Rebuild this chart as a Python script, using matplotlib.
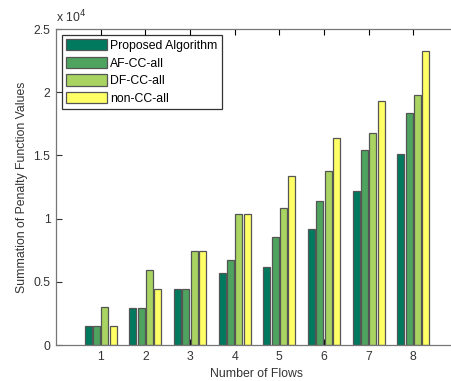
import matplotlib
matplotlib.use("Agg")
import matplotlib.pyplot as plt
import numpy as np

plt.rcParams['font.family'] = ['Liberation Sans', 'DejaVu Sans']

flows = [1, 2, 3, 4, 5, 6, 7, 8]
series_names = ["Proposed Algorithm", "AF-CC-all", "DF-CC-all", "non-CC-all"]
proposed = [1500, 2950, 4420, 5660, 6160, 9160, 12160, 15090]
af_cc = [1500, 2950, 4420, 6690, 8510, 11430, 15460, 18380]
df_cc = [3000, 5950, 7420, 10400, 10850, 13800, 16770, 19770]
non_cc = [1500, 4420, 7420, 10400, 13370, 16350, 19330, 23280]
colors = ["#007a5e", "#4ea35e", "#a9d462", "#ffff66"]
ytick_vals = [0, 5000, 10000, 15000, 20000, 25000]
ytick_labels = ["0", "0.5", "1", "1.5", "2", "2.5"]

fs = 8.8
fig = plt.figure(figsize=(4.52, 3.81), dpi=100)
ax = fig.add_axes([56/452, 36/381, 402/452, 316/381])

data = [proposed, af_cc, df_cc, non_cc]
x = np.array(flows, dtype=float)
pitch = 0.185
width = 0.155
for i, (vals, c, name) in enumerate(zip(data, colors, series_names)):
    ax.bar(x + (i - 1.5) * pitch, vals, width=width, color=c,
           edgecolor="#555555", linewidth=0.9, label=name, zorder=2)

ax.set_xlim(0, 9)
ax.set_ylim(0, 25000)
ax.set_xticks(flows)
ax.set_xticklabels([str(f) for f in flows])
ax.set_yticks(ytick_vals)
ax.set_yticklabels(ytick_labels)
ax.tick_params(direction="in", length=4, width=0.8, labelsize=fs,
               colors="#333333", top=True, right=False, pad=4)
ax.tick_params(axis="x", which="both", color="#000000")
for s in ["left", "bottom", "top"]:
    ax.spines[s].set_color("#777777")
    ax.spines[s].set_linewidth(0.9)
ax.spines["right"].set_visible(False)
for t in ax.get_xticklines():
    t.set_zorder(5)

ax.set_xlabel("Number of Flows", fontsize=fs, color="#333333", labelpad=4)
ax.set_ylabel("Summation of Penalty Function Values", fontsize=fs,
              color="#333333", labelpad=4)
ax.text(0.0, 1.012, r"x 10$^4$", transform=ax.transAxes, fontsize=fs,
        color="#333333", ha="left", va="bottom")

leg = ax.legend(loc="upper left", bbox_to_anchor=(0.015, 0.982), borderaxespad=0,
                fontsize=fs, frameon=True, fancybox=False, handlelength=3.3,
                handleheight=1.05, labelspacing=0.4, handletextpad=0.3,
                borderpad=0.35)
leg.get_frame().set_edgecolor("#000000")
leg.get_frame().set_linewidth(0.9)

fig.savefig("out.png", dpi=100)
